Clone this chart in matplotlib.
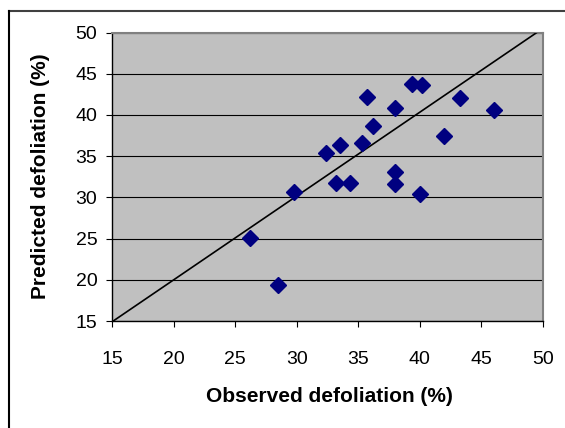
import matplotlib
matplotlib.use("Agg")
import matplotlib.pyplot as plt
from matplotlib.lines import Line2D

plt.rcParams['font.family'] = ['Liberation Sans', 'DejaVu Sans']

observed = [26.2, 28.5, 29.8, 32.4, 33.5, 33.2, 34.3, 35.3, 35.7, 36.2,
            38.0, 38.0, 38.0, 39.4, 40.2, 40.0, 42.0, 43.3, 46.0]
predicted = [25.1, 19.4, 30.6, 35.4, 36.3, 31.8, 31.8, 36.6, 42.2, 38.7,
             40.9, 33.1, 31.6, 43.7, 43.6, 30.4, 37.4, 42.0, 40.6]
line_x = [15.1, 49.5]
line_y = [15.0, 50.0]
ticks = [15, 20, 25, 30, 35, 40, 45, 50]

W, H = 565, 428
fig = plt.figure(figsize=(W / 100, H / 100), dpi=100)
fig.patch.set_facecolor('white')

# outer frame (top and left visible)
fig.add_artist(Line2D([9 / W, 1.0], [1 - 11 / H, 1 - 11 / H], transform=fig.transFigure,
                      color='#404040', lw=1.5))
fig.add_artist(Line2D([9 / W, 9 / W], [0.0, 1 - 11 / H], transform=fig.transFigure,
                      color='#000000', lw=1.5))

left, right, top, bottom = 112, 543, 32.5, 321
ax = fig.add_axes([left / W, 1 - bottom / H, (right - left) / W, (bottom - top) / H])
ax.set_facecolor('#C0C0C0')

ax.set_xlim(15, 50)
ax.set_ylim(15, 50)
ax.set_xticks(ticks)
ax.set_yticks(ticks)
ax.yaxis.grid(True, color='black', lw=0.8)
ax.set_axisbelow(True)

ax.plot(line_x, line_y, color='black', lw=1.2, zorder=3)
ax.plot(observed, predicted, linestyle='none', marker='D', ms=8,
        color='#000080', markeredgecolor='#000080', zorder=4)

for s in ['top', 'right']:
    ax.spines[s].set_color('#808080')
    ax.spines[s].set_linewidth(1.5)
for s in ['left', 'bottom']:
    ax.spines[s].set_color('black')
    ax.spines[s].set_linewidth(1.0)

ax.tick_params(axis='both', direction='out', length=4.5, width=0.8, colors='black',
               labelsize=14)
ax.tick_params(axis='x', pad=17)
ax.tick_params(axis='y', pad=6)

ax.set_xlabel('Observed defoliation (%)', fontsize=15, fontweight='bold', va='center')
ax.xaxis.set_label_coords((329 - left) / (right - left), -(397 - bottom) / (bottom - top))
ax.set_ylabel('Predicted defoliation (%)', fontsize=15, fontweight='bold', va='center')
ax.yaxis.set_label_coords((41 - left) / (right - left), (bottom - 176) / (bottom - top))

fig.savefig('out.png', dpi=100)
